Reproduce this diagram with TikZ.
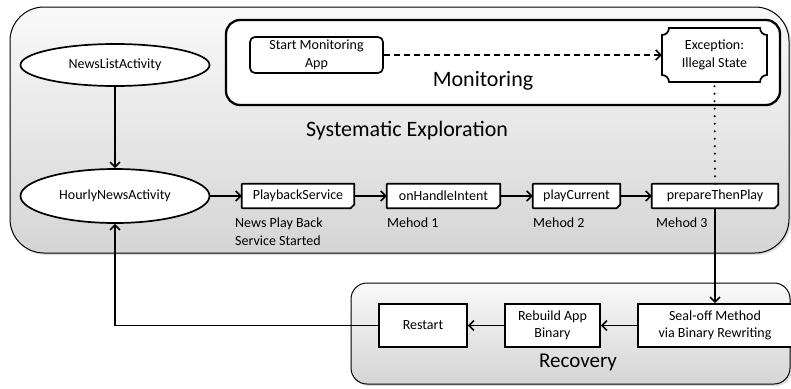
\documentclass[tikz,border=0pt]{standalone}
\usepackage{fontspec}
\setmainfont{Carlito}
\usetikzlibrary{arrows.meta,shapes.geometric,shadows}
\tikzset{
  lbl/.style={font=\fontsize{14}{17.5}\selectfont, inner sep=0pt},
  big/.style={font=\fontsize{22}{24}\selectfont, inner sep=0pt},
  region/.style={draw=black, line width=1pt, top color=gray!5, bottom color=gray!33,
    drop shadow={opacity=0.25, shadow xshift=2pt, shadow yshift=-2pt}},
  ovalnode/.style={ellipse, draw, line width=1.7pt, fill=white, inner sep=0pt, minimum width=189pt, lbl},
  boxnode/.style={rectangle, draw, line width=1.7pt, fill=white, inner sep=0pt, align=center, lbl},
  methnode/.style={rectangle, fill=white, inner sep=0pt, minimum height=24pt, lbl},
  methline/.style={line width=1.7pt, line join=round},
  conn/.style={line width=1.6pt, -{Straight Barb[length=5pt,width=10pt]}},
  dashconn/.style={conn, dash pattern=on 6pt off 4pt},
  dotconn/.style={line width=2.3pt, line cap=round, dash pattern=on 0pt off 7.5pt},
}
\begin{document}
\begin{tikzpicture}[x=1pt,y=-1pt]
\useasboundingbox (0,0) rectangle (791,388);
\begin{scope}
\clip (0,0) rectangle (791,388);
\draw[region, rounded corners=34pt] (10,7) rectangle (789,253);
\draw[region, rounded corners=16pt] (351,283) rectangle (790,384);
\draw[line width=2.3pt, fill=white, rounded corners=14pt] (226,20) rectangle (780,105);
\end{scope}

% titles
\node[big] (sysT) at (407,131) {Systematic Exploration};
\node[big] (monT) at (483,81) {Monitoring};
\node[big, font=\fontsize{21}{24}\selectfont] (recT) at (578,362) {Recovery};

% nodes
\node[ovalnode, minimum height=42pt] (nla) at (115,65) {NewsListActivity};
\node[ovalnode, minimum height=54pt] (hna) at (115,196) {HourlyNewsActivity};
\node[boxnode, rounded corners=5pt, minimum width=133pt, minimum height=36pt] (sma) at (316.5,55) {Start Monitoring\\App};

% exception box with concave corners
\draw[line width=1.7pt, fill=white]
  (669,28) -- (760,28) arc[start angle=180, end angle=90, radius=7]
  -- (767,75) arc[start angle=270, end angle=180, radius=7]
  -- (669,82) arc[start angle=0, end angle=-90, radius=7]
  -- (662,35) arc[start angle=90, end angle=0, radius=7] -- cycle;
\node[lbl, align=center, minimum width=105pt, minimum height=54pt] (exc) at (714.5,55) {Exception:\\Illegal State};

\node[methnode, minimum width=112pt] (pbs) at (298,196) {PlaybackService};
\node[methnode, minimum width=113pt] (ohi) at (443.5,196) {onHandleIntent};
\node[methnode, minimum width=87pt] (pcur) at (576.5,196) {playCurrent};
\node[methnode, minimum width=126pt] (ptp) at (715,196) {prepareThenPlay};
\foreach \n in {pbs,ohi,pcur,ptp}
  \draw[methline] (\n.north west) -- (\n.north east) -- ([yshift=3.5pt]\n.south east)
    -- ([xshift=-3.5pt]\n.south east) -- (\n.south west) -- cycle;

\node[lbl, align=left, anchor=north west] (npl) at (235,218) {News Play Back\\Service Started};
\node[lbl, anchor=north west] (m1) at (387,218) {Mehod 1};
\node[lbl, anchor=north west] (m2) at (533,218) {Mehod 2};
\node[lbl, anchor=north west] (m3) at (656,218) {Mehod 3};

\node[boxnode, minimum width=88pt, minimum height=43pt] (rst) at (423,325.5) {Restart};
\node[boxnode, minimum width=95pt, minimum height=43pt] (rbd) at (552.5,325.5) {Rebuild App\\Binary};
\node[boxnode, minimum width=154pt, minimum height=43pt] (sof) at (715,325.5) {Seal-off Method\\via Binary Rewriting};

% connectors
\draw[conn] (nla) -- (hna);
\draw[conn] (hna) -- (pbs);
\draw[conn] (pbs) -- (ohi);
\draw[conn] (ohi) -- (pcur);
\draw[conn] (pcur) -- (ptp);
\draw[dashconn] (sma) -- (exc);
\draw[dotconn] ([yshift=-4pt]exc.south) -- (ptp.north);
\draw[conn] (ptp.south) -- (sof.north);
\draw[conn] (sof) -- (rbd);
\draw[conn] (rbd) -- (rst);
\draw[conn] (rst.west) -| (hna.south);
\end{tikzpicture}
\end{document}
